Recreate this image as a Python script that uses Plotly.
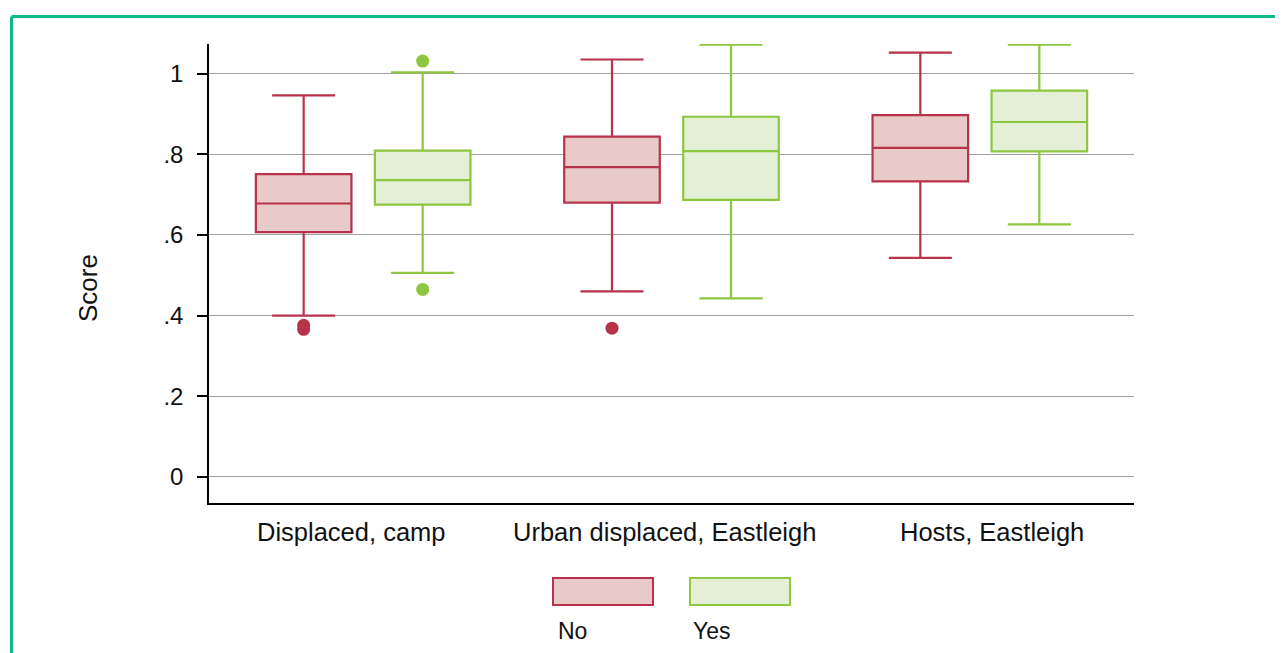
import plotly.graph_objects as go

categories = ["Displaced, camp", "Urban displaced, Eastleigh", "Hosts, Eastleigh"]

# "No" series
no_lower = [0.400, 0.460, 0.543]
no_q1 = [0.607, 0.680, 0.733]
no_median = [0.678, 0.768, 0.816]
no_q3 = [0.751, 0.844, 0.897]
no_upper = [0.946, 1.035, 1.052]
no_outliers = [[0.376, 0.366], [0.369], []]

# "Yes" series
yes_lower = [0.506, 0.443, 0.626]
yes_q1 = [0.675, 0.687, 0.807]
yes_median = [0.736, 0.808, 0.880]
yes_q3 = [0.809, 0.893, 0.958]
yes_upper = [1.003, 1.072, 1.072]
yes_outliers = [[1.031, 0.465], [], []]

y_tickvals = [0, 0.2, 0.4, 0.6, 0.8, 1]
y_ticktext = ["0", ".2", ".4", ".6", ".8", "1"]

RED = "#b8334a"
RED_FILL = "#e8cac8"
GREEN = "#8dc63f"
GREEN_FILL = "#e4f0d5"
FONT = "Liberation Sans, Arial, sans-serif"

fig = go.Figure()


def add_series(name, lower, q1, med, q3, upper, line, fill):
    fig.add_trace(go.Box(
        name=name, x=categories, lowerfence=lower, q1=q1, median=med, q3=q3,
        upperfence=upper, offsetgroup=name, line=dict(color=line, width=2.2),
        fillcolor=fill, whiskerwidth=0.66, boxpoints=False, showlegend=False,
        hoverinfo="skip"))


def flatten_outliers(outs):
    xs, ys = [], []
    for c, vals in zip(categories, outs):
        for v in vals:
            xs.append(c)
            ys.append(v)
    return xs, ys


add_series("No", no_lower, no_q1, no_median, no_q3, no_upper, RED, RED_FILL)
add_series("Yes", yes_lower, yes_q1, yes_median, yes_q3, yes_upper, GREEN, GREEN_FILL)

for name, outs, color in [("No", no_outliers, RED), ("Yes", yes_outliers, GREEN)]:
    xs, ys = flatten_outliers(outs)
    fig.add_trace(go.Scatter(
        x=xs, y=ys, mode="markers", marker=dict(color=color, size=13),
        showlegend=False, hoverinfo="skip", offsetgroup=name))

fig.update_layout(
    width=1283, height=653, autosize=False,
    margin=dict(l=201, r=157, t=36, b=158),
    paper_bgcolor="white", plot_bgcolor="white",
    boxmode="group", boxgap=0.228, boxgroupgap=0.197,
    scattermode="group", scattergap=0.228,
    font=dict(family=FONT, color="#111111", size=23),
    xaxis=dict(
        type="category", range=[-0.5, 2.5], showgrid=False, zeroline=False,
        showline=True, linecolor="black", linewidth=1.5, ticks="",
        showticklabels=False),
    yaxis=dict(
        range=[-0.0645, 1.0734], tickvals=y_tickvals, ticktext=y_ticktext,
        showgrid=True, gridcolor="#a0a0a0", gridwidth=1, zeroline=False,
        showline=True, linecolor="black", linewidth=1.5,
        ticks="outside", ticklen=10, tickcolor="black", tickwidth=1.5,
        tickfont=dict(size=24), ticklabelstandoff=9),
)

# category labels (slightly shifted as in the original)
label_shifts = [-12, -7, 12]
for cat, sh in zip(categories, label_shifts):
    fig.add_annotation(text=cat, x=cat, xref="x", yref="paper", y=-0.030,
                       xanchor="center", yanchor="top", xshift=sh, showarrow=False,
                       borderpad=0, font=dict(size=25.5))

BORDER = "#14b98a"
fig.add_shape(type="line", xref="paper", yref="paper", x0=-0.2135, x1=1.5,
              y0=1.0599, y1=1.0599, line=dict(color=BORDER, width=3))
fig.add_shape(type="line", xref="paper", yref="paper", x0=-0.2135, x1=-0.2135,
              y0=1.0599, y1=-1, line=dict(color=BORDER, width=3))

# legend
fig.add_shape(type="rect", xref="paper", yref="paper", x0=0.3719, x1=0.48,
              y0=-0.2222, y1=-0.1634, line=dict(color=RED, width=2), fillcolor=RED_FILL)
fig.add_shape(type="rect", xref="paper", yref="paper", x0=0.52, x1=0.6281,
              y0=-0.2222, y1=-0.1634, line=dict(color=GREEN, width=2), fillcolor=GREEN_FILL)
fig.add_annotation(text="No", xref="paper", yref="paper", x=0.3762, y=-0.2789,
                   xanchor="left", yanchor="middle", showarrow=False, borderpad=0,
                   font=dict(size=23))
fig.add_annotation(text="Yes", xref="paper", yref="paper", x=0.5222, y=-0.2789,
                   xanchor="left", yanchor="middle", showarrow=False, borderpad=0,
                   font=dict(size=23))
fig.add_annotation(text="Score", xref="paper", yref="paper", x=-0.1308, y=0.4684,
                   xanchor="center", yanchor="middle", textangle=-90, showarrow=False,
                   font=dict(size=26))

fig.write_html("out.html")
